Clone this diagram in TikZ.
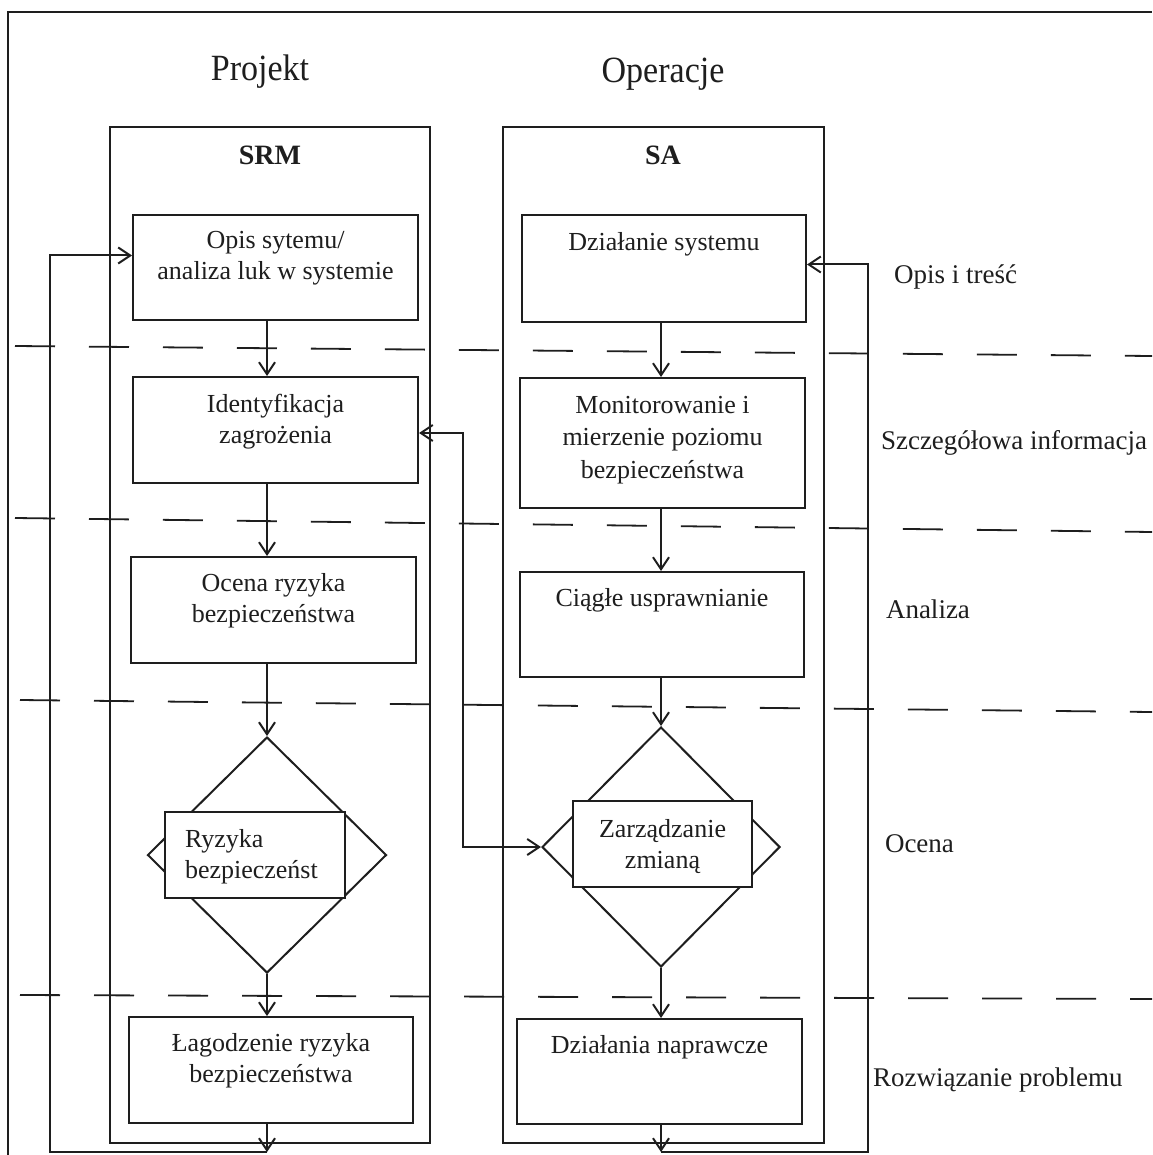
\documentclass[tikz,border=0pt]{standalone}
\usepackage{fontspec}
\setmainfont{Liberation Serif}
\usetikzlibrary{shapes.geometric,arrows.meta,calc}
\definecolor{ink}{HTML}{1E1E1E}
\begin{document}
\begin{tikzpicture}[x=1pt,y=-1pt,
  line width=2pt, draw=ink,
  panel/.style={draw=ink, rectangle, inner sep=0pt},
  box/.style={draw=ink, rectangle, inner sep=0pt, fill=white},
  dia/.style={draw=ink, diamond, inner sep=0pt, fill=white},
  txt/.style={font=\fontsize{26}{31}\selectfont, align=center, inner sep=0pt, text=ink},
  side/.style={font=\fontsize{27}{31}\selectfont, inner sep=0pt, text=ink, anchor=west},
  head/.style={font=\fontsize{37}{40}\selectfont, inner sep=0pt, text=ink},
  ttl/.style={font=\fontsize{28}{31}\selectfont\bfseries, inner sep=0pt, text=ink},
  arr/.style={-{Straight Barb[length=12pt,width=16pt,line width=2pt]}},
  biarr/.style={{Straight Barb[length=12pt,width=16pt,line width=2pt]}-{Straight Barb[length=12pt,width=16pt,line width=2pt]}},
  sep/.style={draw=ink, line width=1.8pt, dash pattern=on 40pt off 34pt}
]
\useasboundingbox (0,0) rectangle (1152,1155);
\fill[white] (0,0) rectangle (1152,1155);

% outer frame
\coordinate (f1) at (8,1155);
\coordinate (f2) at (8,12);
\coordinate (f3) at (1152,12);
\draw[line width=2.6pt] (f1) -- (f2) -- (f3);

% headings
\node[head] (hp) at (260,72) {\scalebox{0.92}[1]{Projekt}};
\node[head] (ho) at (663,74) {\scalebox{0.92}[1]{Operacje}};

% panels
\node[panel, minimum width=320pt, minimum height=1016pt] (srm) at (270,635) {};
\node[panel, minimum width=321pt, minimum height=1016pt] (sa) at (663.5,635) {};
\node[ttl] (srmt) at (270,155) {SRM};
\node[ttl] (sat) at (663,155) {SA};

% dashed separators
\coordinate (a1) at (15,346);  \coordinate (b1) at (1152,356);
\coordinate (a2) at (15,518);  \coordinate (b2) at (1152,532);
\coordinate (a3) at (20,700);  \coordinate (b3) at (1152,712);
\coordinate (a4) at (20,995);  \coordinate (b4) at (1152,999);
\draw[sep] (a1) -- (b1);
\draw[sep] (a2) -- (b2);
\draw[sep] (a3) -- (b3);
\draw[sep] (a4) -- (b4);

% SRM column
\node[box, minimum width=285pt, minimum height=105pt] (p1) at (275.5,267.5) {};
\node[txt, anchor=north] (p1t) at ([yshift=-16pt]p1.north) {Opis sytemu/\\analiza luk w systemie};
\node[box, minimum width=285pt, minimum height=106pt] (p2) at (275.5,430) {};
\node[txt, anchor=north] (p2t) at ([yshift=-17pt]p2.north) {Identyfikacja\\zagrożenia};
\node[box, minimum width=285pt, minimum height=106pt] (p3) at (273.5,610) {};
\node[txt, anchor=north] (p3t) at ([yshift=-16pt]p3.north) {Ocena ryzyka\\bezpieczeństwa};
\node[dia, minimum width=239pt, minimum height=236pt] (d1) at (267,855) {};
\node[box, minimum width=180pt, minimum height=86pt] (r1) at (255,855) {};
\node[txt, align=left, anchor=north west] (r1t) at ([xshift=20pt,yshift=-17pt]r1.north west) {Ryzyka\\bezpieczeńst};
\node[box, minimum width=284pt, minimum height=106pt] (p5) at (271,1070) {};
\node[txt, anchor=north] (p5t) at ([yshift=-16pt]p5.north) {Łagodzenie ryzyka\\bezpieczeństwa};

% SA column
\node[box, minimum width=284pt, minimum height=107pt] (o1) at (664,268.5) {};
\node[txt, anchor=north] (o1t) at ([yshift=-17pt]o1.north) {Działanie systemu};
\node[box, minimum width=285pt, minimum height=130pt] (o2) at (662.5,443) {};
\node[txt, anchor=north, font=\fontsize{26}{32.5}\selectfont] (o2t) at ([yshift=-18pt]o2.north) {Monitorowanie i\\mierzenie poziomu\\bezpieczeństwa};
\node[box, minimum width=284pt, minimum height=105pt] (o3) at (662,624.5) {};
\node[txt, anchor=north] (o3t) at ([yshift=-16pt]o3.north) {Ciągłe usprawnianie};
\node[dia, minimum width=238pt, minimum height=240pt] (d2) at (661,847) {};
\node[box, minimum width=179pt, minimum height=86pt] (r2) at (662.5,844) {};
\node[txt, anchor=north] (r2t) at ([yshift=-18pt]r2.north) {Zarządzanie\\zmianą};
\node[box, minimum width=285pt, minimum height=105pt] (o5) at (659.5,1071.5) {};
\node[txt, anchor=north] (o5t) at ([yshift=-16pt]o5.north) {Działania naprawcze};

% side labels
\node[side] (l1) at (893,277) {Opis i treść};
\node[side] (l2) at (880,443) {Szczegółowa informacja};
\node[side] (l3) at (885,609) {Analiza};
\node[side] (l4) at (884,844) {Ocena};
\node[side] (l5) at (872,1080) {Rozwiązanie problemu};

% column axes
\coordinate (sx) at (267,0);
\coordinate (ox) at (661,0);

% SRM arrows
\draw[arr] (p1.south -| sx) -- (p2.north -| sx);
\draw[arr] (p2.south -| sx) -- (p3.north -| sx);
\draw[arr] (p3.south -| sx) -- (d1.north);
\draw[arr] (d1.south) -- (p5.north -| sx);
\coordinate (bl) at (267,1152);
\coordinate (lc) at (50,1152);
\draw[arr] (p5.south -| sx) -- (bl);
\draw[arr] (bl) -- (lc) |- ([yshift=12pt]p1.west);

% SA arrows
\draw[arr] (o1.south -| ox) -- (o2.north -| ox);
\draw[arr] (o2.south -| ox) -- (o3.north -| ox);
\draw[arr] (o3.south -| ox) -- (d2.north);
\draw[arr] (d2.south) -- (o5.north -| ox);
\coordinate (br) at (661,1152);
\coordinate (rc) at (868,1152);
\draw[arr] (o5.south -| ox) -- (br);
\draw[arr] (br) -- (rc) |- ([yshift=4pt]o1.east);

% cross connector
\coordinate (mc) at (463,433);
\draw[biarr] (p2.east |- mc) -- (mc) |- (d2.west);
\end{tikzpicture}
\end{document}
